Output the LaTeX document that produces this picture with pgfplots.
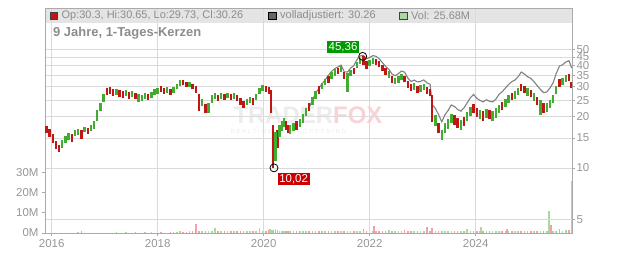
\documentclass[border=0pt]{standalone}
\usepackage{pgfplots}
\pgfplotsset{compat=1.18}
\usepackage{pgfplotstable}
\usepackage{fontspec}
\setmainfont{Liberation Sans}
\definecolor{cred}{RGB}{192,22,22}
\definecolor{cgreen}{RGB}{64,172,48}
\definecolor{vred}{RGB}{244,160,168}
\definecolor{vgreen}{RGB}{168,218,160}
\definecolor{gridc}{RGB}{218,218,218}
\definecolor{axisc}{RGB}{170,170,170}
\definecolor{tickc}{RGB}{150,150,150}
\definecolor{bandc}{RGB}{228,228,228}
\definecolor{hdrtext}{RGB}{140,140,140}
\definecolor{lblred}{RGB}{204,0,0}
\definecolor{lblgreen}{RGB}{0,153,0}
\definecolor{adjgray}{RGB}{128,128,128}
\definecolor{wmgray}{RGB}{236,236,236}
\definecolor{wmpink}{RGB}{250,210,212}

\pgfplotstableread{
t lo hi vol
2015.90 16.0 17.6 0
2015.96 15.3 16.9 0
2016.02 14.1 15.8 0
2016.08 13.0 14.4 0
2016.14 12.4 13.6 0
2016.38 14.3 15.9 0
2016.56 14.9 16.7 0.9
2016.68 15.9 17.3 0
2017.04 26.8 29.4 0
2017.10 27.2 29.8 0
2017.16 26.6 29.0 0
2017.28 26.2 28.6 0
2017.34 25.8 28.2 0
2017.46 25.6 27.9 0
2017.58 25.4 27.6 0.4
2017.82 25.2 27.4 0
2018.06 28.0 30.2 0.4
2018.12 27.2 29.4 0
2018.24 27.0 29.2 0.4
2018.48 30.6 32.9 0.4
2018.54 29.8 32.0 0.6
2018.66 29.0 31.2 0.8
2018.72 27.6 30.2 4.3
2018.78 21.6 27.4 1.2
2018.90 21.2 23.8 1.0
2019.14 24.9 27.0 1.0
2019.26 25.2 27.3 0.8
2019.38 25.1 27.2 0.8
2019.50 24.9 27.0 1.0
2019.56 23.6 25.9 0.8
2019.62 22.4 24.8 1.0
2019.80 23.6 25.8 1.0
2020.04 28.0 30.2 1.0
2020.10 27.4 29.8 1.4
2020.14 21.0 28.6 1.2
2020.18 10.02 18.0 1.6
2020.26 13.2 16.8 1.4
2020.42 16.8 19.0 1.0
2020.46 16.0 18.0 0.8
2020.62 16.8 18.8 0.8
2020.86 21.6 24.0 0.8
2021.04 27.4 30.2 0.8
2021.22 31.8 34.8 0.8
2021.40 35.6 39.0 0.8
2021.52 33.4 36.8 1.0
2021.70 35.8 38.8 0.8
2021.88 40.6 45.36 2.2
2021.94 38.4 42.6 1.0
2022.12 40.6 44.0 1.0
2022.18 39.2 42.6 1.0
2022.24 37.2 40.6 0.8
2022.30 35.2 38.6 1.0
2022.42 31.8 35.0 1.0
2022.66 32.0 35.0 1.6
2022.72 29.6 32.4 1.0
2022.78 28.2 31.0 1.0
2022.90 27.8 30.4 1.0
2023.08 27.4 30.0 3.0
2023.14 26.4 29.0 1.2
2023.18 18.6 27.0 2.5
2023.30 16.0 18.4 1.0
2023.60 18.0 20.4 1.0
2023.66 17.2 19.6 0.8
2023.78 17.6 20.0 0.8
2023.96 21.2 23.8 1.0
2024.02 20.0 22.6 0.8
2024.14 19.0 21.6 1.0
2024.26 19.4 21.8 1.0
2024.50 21.8 24.4 0.8
2024.68 25.0 27.8 1.0
2024.86 28.2 31.4 1.0
2024.92 27.6 30.4 1.0
2025.04 26.0 28.8 1.0
2025.16 23.4 26.2 1.0
2025.28 21.2 24.0 1.0
2025.58 30.0 33.4 2.0
2025.76 32.4 35.6 1.6
2025.81 29.73 32.0 1.5
}\redtab

\pgfplotstableread{
t lo hi vol
2016.20 13.2 14.7 0
2016.26 14.0 15.5 0
2016.32 14.7 16.0 0
2016.44 15.4 16.7 0
2016.50 15.6 17.0 0.6
2016.62 16.2 17.5 0
2016.74 16.5 17.9 0
2016.80 17.0 19.0 0
2016.86 18.8 21.8 0
2016.92 21.6 24.2 0
2016.98 24.4 27.4 0
2017.22 26.9 29.0 0.4
2017.40 26.4 28.6 0.4
2017.52 26.0 28.2 0
2017.64 24.4 27.2 0
2017.70 24.8 27.0 0
2017.76 25.5 27.6 0.4
2017.88 25.8 28.0 0.4
2017.94 26.8 29.0 0
2018.00 27.4 29.6 0.4
2018.18 27.6 29.8 0
2018.30 27.8 30.0 0.6
2018.36 29.0 31.4 0.6
2018.42 30.4 33.0 0.8
2018.60 29.8 32.0 0.8
2018.84 23.2 25.6 1.0
2018.96 21.0 24.0 1.0
2019.02 24.2 26.8 1.2
2019.08 25.6 27.8 2.5
2019.20 25.5 27.6 1.0
2019.32 25.7 27.8 1.0
2019.44 25.4 27.6 1.2
2019.68 23.4 25.6 1.0
2019.74 24.0 26.2 0.8
2019.86 25.2 27.4 1.2
2019.92 27.2 29.6 2.3
2019.98 28.4 30.6 1.0
2020.22 11.0 16.2 1.8
2020.30 15.2 18.0 1.2
2020.34 16.4 18.8 1.0
2020.38 17.4 19.6 1.0
2020.50 15.8 17.8 0.8
2020.56 16.4 18.4 1.0
2020.68 17.4 19.4 0.8
2020.74 18.4 20.8 1.0
2020.80 20.2 22.6 1.0
2020.92 23.4 26.0 1.0
2020.98 25.6 28.4 1.0
2021.10 29.0 31.8 1.0
2021.16 30.6 33.4 1.0
2021.28 33.6 36.8 1.0
2021.34 35.0 38.2 1.0
2021.46 36.8 40.0 1.0
2021.58 28.0 36.0 1.2
2021.64 34.6 37.6 1.0
2021.76 38.8 42.2 1.0
2021.82 40.8 44.2 1.0
2022.00 40.0 43.4 1.0
2022.06 41.0 44.4 1.0
2022.36 34.0 37.2 1.5
2022.48 31.0 34.0 1.0
2022.54 31.8 34.6 0.8
2022.60 32.8 35.8 1.0
2022.84 28.8 31.6 0.8
2022.96 28.0 30.6 0.8
2023.02 28.6 31.2 1.0
2023.24 17.6 20.4 1.2
2023.36 14.6 16.8 1.2
2023.42 16.0 18.4 1.0
2023.48 17.0 19.4 1.0
2023.54 18.4 20.8 0.8
2023.72 16.8 19.2 1.0
2023.84 18.8 21.4 1.8
2023.90 20.2 22.8 1.0
2024.08 19.4 22.0 1.0
2024.20 19.8 22.2 0.8
2024.32 19.0 21.6 0.8
2024.38 19.8 22.4 1.0
2024.44 21.0 23.6 1.0
2024.56 22.8 25.4 1.0
2024.62 24.0 26.8 1.0
2024.74 25.6 28.4 1.0
2024.80 26.8 29.6 0.8
2024.98 26.6 29.4 0.8
2025.10 24.8 27.6 1.0
2025.22 20.6 25.0 1.2
2025.34 21.4 24.2 1.0
2025.40 22.4 25.2 1.0
2025.46 24.2 27.0 1.2
2025.52 27.2 30.4 1.2
2025.64 30.8 34.0 1.2
2025.70 32.0 35.2 1.4
}\greentab

\begin{document}
\begin{tikzpicture}
\useasboundingbox (-45bp,-20bp) rectangle (587bp,233bp);
% ---------- volume axis (left) ----------
\begin{axis}[
  at={(0,0)}, anchor=south west,
  scale only axis, width=527bp, height=225bp,
  xmin=2015.874, xmax=2025.817, ymin=0, ymax=110.8,
  hide x axis,
  ytick pos=left,
  axis line style={draw=none},
  ytick={0,10,20,30}, yticklabels={0M,10M,20M,30M},
  tick align=outside, major tick length=3bp,
  tick style={axisc, line width=0.8bp},
  yticklabel style={font=\fontsize{11.5}{12}\selectfont, text=tickc},
]
\fill[bandc] (rel axis cs:0,0.9347) rectangle (rel axis cs:1,1);
\node[font=\bfseries\fontsize{24}{24}\selectfont, inner sep=0] at (rel axis cs:0.499,0.525)
  {\textcolor{wmgray}{TRADER}\textcolor{wmpink}{FOX}};
\node[font=\fontsize{6}{6}\selectfont, text=wmgray, inner sep=0] at (rel axis cs:0.462,0.45)
  {R E A L T I M E \hspace{22bp} S C R E E N I N G};
\addplot[ycomb, vred, line width=1.6bp, mark=none] table[x=t, y=vol] {\redtab};
\addplot[ycomb, vgreen, line width=1.6bp, mark=none] table[x=t, y=vol] {\greentab};
\addplot[ycomb, vred, line width=1.6bp, mark=none] coordinates {(2022.08,3.4) (2024.59,1.8) (2025.42,4.0)};
\addplot[ycomb, vgreen, line width=1.6bp, mark=none] coordinates {(2020.12,2.2) (2020.16,1.6) (2024.10,3.0) (2025.38,11.0) (2025.81,25.68)};
\end{axis}
% ---------- price axis (right, log) ----------
\begin{axis}[
  at={(0,0)}, anchor=south west,
  scale only axis, width=527bp, height=225bp,
  xmin=2015.874, xmax=2025.817,
  ymode=log, ymin=4.147, ymax=87.34, yminorticks=false,
  ytick pos=right, xtick pos=bottom,
  xtick={2016,2018,2020,2022,2024}, xticklabels={2016,2018,2020,2022,2024},
  ytick={5,10,15,20,25,30,35,40,45,50}, yticklabels={5,10,15,20,25,30,35,40,45,50},
  grid=major, grid style={gridc, line width=0.9bp},
  axis line style={axisc, line width=0.8bp},
  tick align=outside, major tick length=3bp,
  tick style={axisc, line width=0.8bp},
  ticklabel style={font=\fontsize{11.5}{12}\selectfont, text=tickc},
  yticklabel style={xshift=-2bp},
]
\addplot[adjgray, line width=1.1bp, mark=none] coordinates {
(2020.86,22.8) (2020.92,25.0) (2020.98,27.5) (2021.04,29.4) (2021.10,31.3) (2021.16,33.0)
(2021.22,35.1) (2021.28,37.0) (2021.34,38.4) (2021.40,39.3) (2021.46,40.3) (2021.52,36.8)
(2021.58,36.7) (2021.64,38.7) (2021.70,40.0) (2021.76,43.4) (2021.82,45.6) (2021.88,46.0)
(2021.94,43.9) (2022.00,44.7) (2022.06,45.8) (2022.12,45.4) (2022.18,43.9) (2022.24,41.7)
(2022.30,39.6) (2022.36,38.1) (2022.42,35.7) (2022.48,34.9) (2022.54,35.9) (2022.60,37.2)
(2022.66,36.6) (2022.72,33.8) (2022.78,32.3) (2022.84,32.9) (2022.90,32.1) (2022.96,32.3)
(2023.02,33.0) (2023.08,31.7) (2023.14,31.1) (2023.18,23.6) (2023.24,22.4) (2023.30,20.6)
(2023.36,18.7) (2023.42,20.6) (2023.48,21.8) (2023.54,23.5) (2023.60,23.0) (2023.66,22.1)
(2023.72,21.6) (2023.78,22.6) (2023.84,24.2) (2023.90,25.9) (2023.96,27.1) (2024.02,25.7)
(2024.08,25.0) (2024.14,24.5) (2024.20,25.2) (2024.26,24.7) (2024.32,24.5) (2024.38,25.4)
(2024.44,27.1) (2024.50,28.1) (2024.56,29.5) (2024.62,31.0) (2024.68,32.2) (2024.74,32.9)
(2024.80,34.4) (2024.86,36.7) (2024.92,35.7) (2024.98,34.4) (2025.04,33.7) (2025.10,32.2)
(2025.16,30.5) (2025.22,29.0) (2025.28,27.8) (2025.34,28.0) (2025.40,29.5) (2025.46,31.7)
(2025.52,36.0) (2025.58,39.8) (2025.64,40.5) (2025.70,42.0) (2025.76,42.8) (2025.81,38.8)
};
\addplot[draw=none, mark=none,
  error bars/.cd, y dir=plus, y explicit, error mark=none,
  error bar style={draw=cred, line width=2.4bp, solid}]
  table[x=t, y=lo, y error plus expr={\thisrow{hi}-\thisrow{lo}}] {\redtab};
\addplot[draw=none, mark=none,
  error bars/.cd, y dir=plus, y explicit, error mark=none,
  error bar style={draw=cgreen, line width=2.4bp, solid}]
  table[x=t, y=lo, y error plus expr={\thisrow{hi}-\thisrow{lo}}] {\greentab};
\addplot[only marks, mark=o, mark size=4bp, mark options={draw=black, line width=0.8bp}]
  coordinates {(2020.194,10.02) (2021.868,45.36)};
\node[anchor=north west, fill=lblred, text=white, inner sep=1.6bp,
  font=\fontsize{11.5}{12}\selectfont] at (axis cs:2020.194,10.02) [xshift=3.5bp, yshift=-4.5bp] {10,02};
\node[anchor=south east, fill=lblgreen, text=white, inner sep=1.6bp,
  font=\fontsize{11.5}{12}\selectfont] at (axis cs:2021.868,45.36) [xshift=-3.5bp, yshift=3bp] {45,36};
% header legend
\node[draw=black!75, fill=cred, minimum size=7.5bp, inner sep=0] at (rel axis cs:0.0166,0.9667) {};
\node[anchor=west, text=hdrtext, font=\fontsize{11}{11}\selectfont, inner sep=0]
  at (rel axis cs:0.0313,0.9667) {Op:30.3, Hi:30.65, Lo:29.73, Cl:30.26};
\node[draw=black, fill=black!60, minimum size=7.5bp, inner sep=0] at (rel axis cs:0.4307,0.9667) {};
\node[anchor=west, text=hdrtext, font=\fontsize{11}{11}\selectfont, inner sep=0]
  at (rel axis cs:0.4459,0.9667) {volladjustiert: 30.26};
\node[draw=black!75, fill=vgreen, minimum size=7.5bp, inner sep=0] at (rel axis cs:0.6793,0.9667) {};
\node[anchor=west, text=hdrtext, font=\fontsize{11}{11}\selectfont, inner sep=0]
  at (rel axis cs:0.6945,0.9667) {Vol: 25.68M};
\node[anchor=west, text=hdrtext, font=\bfseries\fontsize{13}{13}\selectfont, inner sep=0]
  at (rel axis cs:0.0152,0.8867) {9 Jahre, 1-Tages-Kerzen};
\end{axis}
\end{tikzpicture}
\end{document}
